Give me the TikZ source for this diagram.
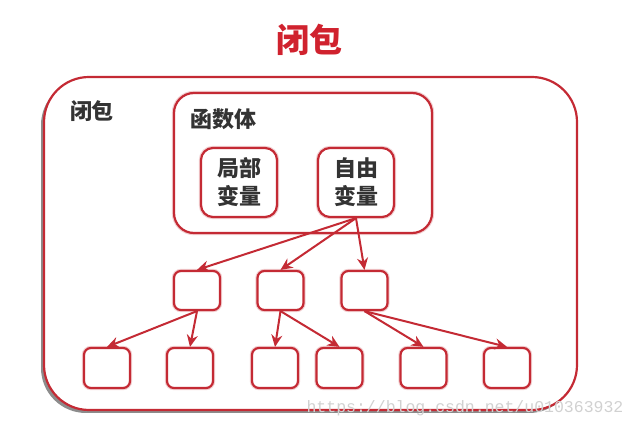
\documentclass[tikz,border=0pt]{standalone}
\usepackage{fontspec}
\setmainfont{Noto Sans CJK SC}
\setmonofont{Liberation Mono}
\usetikzlibrary{arrows.meta,shadows}
\definecolor{boxred}{HTML}{C42A34}
\definecolor{titlered}{HTML}{D0222E}
\definecolor{textgray}{HTML}{333333}
\begin{document}
\begin{tikzpicture}[x=1pt,y=-1pt,
    box/.style={draw=boxred,line width=2.2pt,fill=white,rounded corners=#1,
      preaction={draw=boxred!22,line width=4.4pt}},
    box/.default=7pt,
    cell/.style={box,minimum width=46pt,minimum height=40pt,inner sep=0pt},
    lbl/.style={text=textgray,font=\bfseries\fontsize{22}{28}\selectfont,inner sep=0pt},
    link/.style={draw=boxred,line width=2pt,-{Stealth[length=12pt,width=11pt,inset=4pt]}}]
    \useasboundingbox (0,0) rectangle (638,430);
    % title and the outer closure box
    \node[text=titlered,font=\bfseries\fontsize{33}{36}\selectfont,inner sep=0pt] (title) at (309,40) {闭包};
    \node[draw=boxred,line width=2.2pt,fill=white,rounded corners=45pt,
      drop shadow={shadow xshift=-3pt,shadow yshift=-3pt,fill=black,opacity=0.45},
      minimum width=533pt,minimum height=333pt] (closure) at (310.5,243.5) {};
    \node[lbl] (closurelbl) at (92,111) {闭包};
    % function body with its two variable boxes
    \node[box=20pt,minimum width=258pt,minimum height=140pt] (body) at (303,163) {};
    \node[lbl] (bodylbl) at (223.5,119) {函数体};
    \node[box=12pt,lbl,align=center,minimum width=76pt,minimum height=69pt] (local) at (239,182.5) {局部\\变量};
    \node[box=12pt,lbl,align=center,minimum width=76pt,minimum height=69pt] (free) at (356,182.5) {自由\\变量};
    % middle row
    \node[cell,minimum height=39pt] (m1) at (197,290.5) {};
    \node[cell,minimum height=39pt] (m2) at (280.5,290.5) {};
    \node[cell,minimum height=39pt] (m3) at (364.5,290.5) {};
    % bottom row
    \foreach \n/\x in {1/107,2/190,3/275,4/339.5,5/423.5,6/507}
      \node[cell] (b\n) at (\x,368) {};
    % arrows
    \foreach \t in {m1,m2,m3}
      \draw[link] (free.south) -- (\t.north);
    \draw[link] (m1.south) -- (b1.north);
    \draw[link] (m1.south) -- (b2.north);
    \draw[link] (m2.south) -- (b3.north);
    \draw[link] (m2.south) -- (b4.north);
    \draw[link] (m3.south) -- (b5.north);
    \draw[link] (m3.south) -- (b6.north);
    % watermark
    \node[text=black!18,font=\ttfamily\fontsize{16.5}{18}\selectfont,inner sep=0pt] (mark) at (465,408) {https://blog.csdn.net/u010363932};
  \end{tikzpicture}
\end{document}
